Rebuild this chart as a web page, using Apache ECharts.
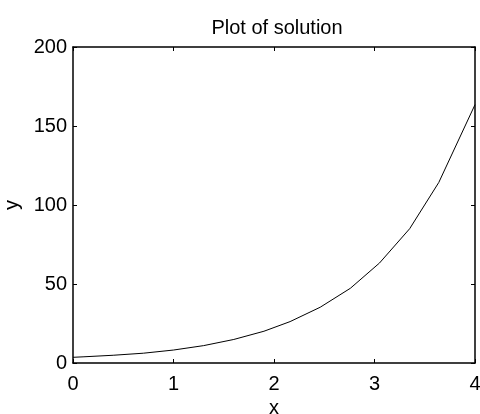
<!DOCTYPE html>
<html>
<head>
<meta charset="utf-8">
<script src="https://cdn.jsdelivr.net/npm/echarts@6/dist/echarts.min.js"></script>
<style>html,body{margin:0;padding:0;background:#fff}#c{width:480px;height:414px}</style>
</head>
<body>
<div id="c"></div>
<script>
var xValues = [0, 0.1, 0.4, 0.7, 1.0, 1.3, 1.6, 1.9, 2.16, 2.46, 2.76, 3.05, 3.35, 3.64, 4.0];
var yValues = [3.6, 3.9, 4.9, 6.2, 8.2, 11.0, 14.9, 20.1, 26.2, 35.3, 47.3, 63.3, 85.0, 114.3, 163.5];
var xTicks = [0, 1, 2, 3, 4];
var yTicks = [0, 50, 100, 150, 200];
var titleText = 'Plot of solution';
var xName = 'x';
var yName = 'y';

var font = 'Liberation Sans, Arial, Helvetica, sans-serif';
var chart = echarts.init(document.getElementById('c'), null, {renderer: 'canvas'});
var data = xValues.map(function (x, i) { return [x, yValues[i]]; });
var tick = {show: true, inside: true, length: 4, lineStyle: {color: '#000', width: 1}};
var line = {show: true, onZero: false, lineStyle: {color: '#000', width: 1.5}};
var lbl = {color: '#000', fontSize: 20, fontFamily: font};
chart.setOption({
  animation: false,
  backgroundColor: '#fff',
  title: {text: titleText, left: 272, top: 13, textAlign: 'center',
    textStyle: {color: '#000', fontSize: 20, fontWeight: 'normal', fontFamily: font}},
  grid: {left: 73, right: 5, top: 47, bottom: 51, containLabel: false, outerBoundsMode: 'none'},
  xAxis: [
    {type: 'value', min: xTicks[0], max: xTicks[xTicks.length - 1], interval: 1, position: 'bottom',
     axisLine: line, axisTick: tick, splitLine: {show: false},
     axisLabel: Object.assign({margin: 11}, lbl),
     name: xName, nameLocation: 'middle', nameGap: 30,
     nameTextStyle: {color: '#000', fontSize: 20, fontFamily: font}},
    {type: 'value', min: xTicks[0], max: xTicks[xTicks.length - 1], interval: 1, position: 'top',
     axisLine: line, axisTick: tick, splitLine: {show: false}, axisLabel: {show: false}}
  ],
  yAxis: [
    {type: 'value', min: yTicks[0], max: yTicks[yTicks.length - 1], interval: 50, position: 'left',
     axisLine: line, axisTick: tick, splitLine: {show: false},
     axisLabel: Object.assign({margin: 6}, lbl),
     name: yName, nameLocation: 'middle', nameGap: 49,
     nameTextStyle: {color: '#000', fontSize: 20, fontFamily: font}},
    {type: 'value', min: yTicks[0], max: yTicks[yTicks.length - 1], interval: 50, position: 'right',
     axisLine: line, axisTick: tick, splitLine: {show: false}, axisLabel: {show: false}}
  ],
  series: [{
    type: 'line', data: data, xAxisIndex: 0, yAxisIndex: 0,
    showSymbol: false, symbol: 'none', smooth: false,
    lineStyle: {color: '#000', width: 1}
  }]
});
</script>
</body>
</html>
